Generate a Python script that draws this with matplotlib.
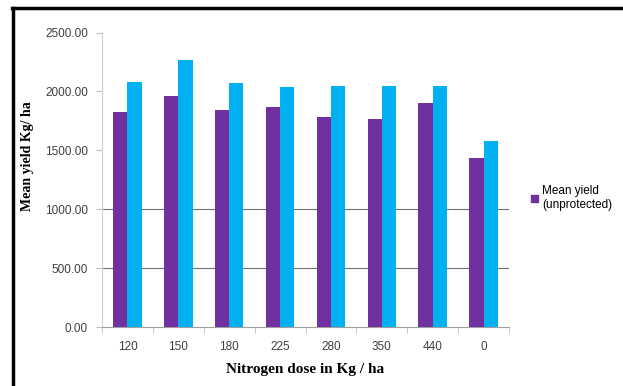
import numpy as np
import matplotlib
matplotlib.use("Agg")
import matplotlib.pyplot as plt
from matplotlib.lines import Line2D
from matplotlib.patches import Patch

doses = ["120", "150", "180", "225", "280", "350", "440", "0"]
unprotected = [1822, 1964, 1845, 1865, 1780, 1769, 1899, 1436]
protected = [2082, 2266, 2071, 2040, 2048, 2048, 2048, 1583]
yticks = [0, 500, 1000, 1500, 2000, 2500]

purple = "#7030A0"
blue = "#00B0F0"

fig = plt.figure(figsize=(6.23, 3.86), dpi=100)
ax = fig.add_axes([102/623, 1-327/386, (509-102)/623, (327-32.5)/386])

x = np.arange(len(doses))
w = 0.28
ax.bar(x - w/2, unprotected, w, color=purple, label="Mean yield\n(unprotected)", zorder=3)
ax.bar(x + w/2, protected, w, color=blue, zorder=3)

ax.set_xlim(-0.5, len(doses) - 0.5)
ax.set_ylim(0, 2500)

# visible gridlines
for v in [500, 1000]:
    ax.axhline(v, color="#707070", lw=0.8, zorder=1)

ax.set_yticks(yticks)
ax.set_yticklabels(["%.2f" % v for v in yticks])
ax.set_xticks(x)
ax.set_xticklabels(doses)
ax.set_xticks(np.arange(len(doses) + 1) - 0.5, minor=True)
ax.tick_params(axis="x", which="major", length=0, pad=10)
ax.tick_params(axis="x", which="minor", length=4, color="#bfbfbf", direction="out")
ax.tick_params(axis="y", length=4, color="#bfbfbf", pad=6)
for lab in ax.get_xticklabels() + ax.get_yticklabels():
    lab.set_fontfamily("Liberation Sans")
    lab.set_fontsize(8.5)
    lab.set_color("#404040")

for s in ["top", "right"]:
    ax.spines[s].set_visible(False)
ax.spines["left"].set_color("#d0d0d0")
ax.spines["bottom"].set_color("#a0a0a0")

ax.set_xlabel("Nitrogen dose in Kg / ha", fontfamily="Liberation Serif",
              fontweight="bold", fontsize=11, labelpad=7)
ax.set_ylabel("Mean yield Kg/ ha", fontfamily="Liberation Serif",
              fontweight="bold", fontsize=10)
ax.yaxis.set_label_coords(-0.166, 0.58)

ax.legend(handles=[Patch(color=purple)], labels=["Mean yield\n(unprotected)"],
          loc="center left", bbox_to_anchor=(520/623, 1-198/386),
          bbox_transform=fig.transFigure, frameon=False,
          handlelength=0.6, handleheight=0.6, handletextpad=0.4,
          prop={"family": "Liberation Sans", "size": 8.5})

# outer frame (top and left only visible)
fig.add_artist(Line2D([13/623, 13/623], [0, 1-7.5/386], color="black", lw=2.5,
                      transform=fig.transFigure))
fig.add_artist(Line2D([12/623, 1], [1-7.5/386, 1-7.5/386], color="black", lw=2.5,
                      transform=fig.transFigure))

fig.savefig("out.png", dpi=100)
